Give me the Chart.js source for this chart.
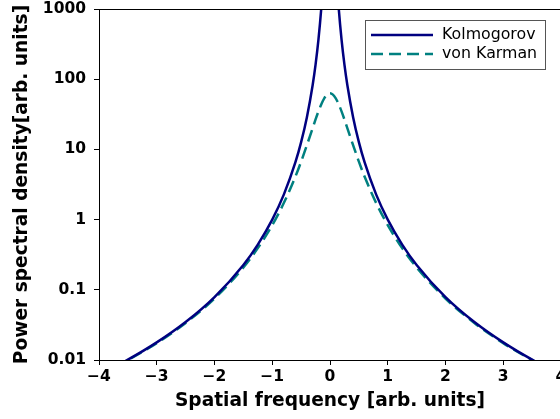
<!DOCTYPE html>
<html>
<head>
    <title>PSD - Kolmogorov vs von Karman</title>
    <script src="https://cdn.jsdelivr.net/npm/chart.js"></script>
    <style>
        html, body { margin: 0; padding: 0; overflow: hidden; background: white; }
        canvas { display: block; }
    </style>
</head>
<body>
    <canvas id="chart" width="580" height="419"></canvas>

    <script>
        // spatial frequency samples
        const freq = [-4, -3.5, -3, -2.5, -2, -1.5, -1.25, -1, -0.8, -0.6, -0.5, -0.4, -0.3, -0.25, -0.2, -0.15, -0.12, -0.1, -0.05, 0,
                      0.05, 0.1, 0.12, 0.15, 0.2, 0.25, 0.3, 0.4, 0.5, 0.6, 0.8, 1, 1.25, 1.5, 2, 2.5, 3, 3.5, 4];
        const kolmogorov = [0.0062, 0.0101, 0.0178, 0.0347, 0.0787, 0.226, 0.441, 1, 2.27, 6.51, 12.7, 28.8, 82.7, 161, 365, 1050, 2380, 4640, null, null,
                            null, 4640, 2380, 1050, 365, 161, 82.7, 28.8, 12.7, 6.51, 2.27, 1, 0.441, 0.226, 0.0787, 0.0347, 0.0178, 0.0101, 0.0062];
        const vonKarman = [0.0061, 0.00996, 0.0174, 0.0337, 0.0751, 0.208, 0.392, 0.834, 1.72, 4.08, 6.70, 11.5, 20.1, 26.7, 34.8, 44.1, 49.7, 53.3, 60.4, 63,
                           60.4, 53.3, 49.7, 44.1, 34.8, 26.7, 20.1, 11.5, 6.70, 4.08, 1.72, 0.834, 0.392, 0.208, 0.0751, 0.0337, 0.0174, 0.00996, 0.0061];
        const yTicks = [0.01, 0.1, 1, 10, 100, 1000];
        const yTickLabels = ['0.01', '0.1', '1', '10', '100', '1000'];

        const tickFont = { family: 'DejaVu Sans', size: 15.5, weight: 'bold' };
        const titleFont = { family: 'DejaVu Sans', size: 18.6, weight: 'bold' };

        // matplotlib-like frame and legend inside the plot
        const framePlugin = {
            id: 'frame',
            afterDatasetsDraw(chart) {
                const { ctx, chartArea: a } = chart;
                ctx.save();
                ctx.strokeStyle = 'black';
                ctx.lineWidth = 1;
                ctx.strokeRect(a.left + 0.5, a.top + 0.5, a.right - a.left, a.bottom - a.top);

                // legend
                const bx = 365, by = 20, bw = 180, bh = 49;
                ctx.fillStyle = 'white';
                ctx.fillRect(bx, by, bw, bh);
                ctx.strokeStyle = '#555';
                ctx.strokeRect(bx + 0.5, by + 0.5, bw, bh);
                ctx.font = '15.8px "DejaVu Sans"';
                ctx.textBaseline = 'middle';
                chart.data.datasets.forEach((ds, i) => {
                    const y = by + 15 + i * 19;
                    ctx.strokeStyle = ds.borderColor;
                    ctx.lineWidth = ds.borderWidth;
                    ctx.setLineDash(ds.borderDash || []);
                    ctx.beginPath();
                    ctx.moveTo(bx + 6, y);
                    ctx.lineTo(bx + 68, y);
                    ctx.stroke();
                    ctx.setLineDash([]);
                    ctx.fillStyle = 'black';
                    ctx.fillText(ds.label, bx + 77, y);
                });
                ctx.restore();
            }
        };

        const ctx = document.getElementById('chart').getContext('2d');
        const chart = new Chart(ctx, {
            type: 'line',
            data: {
                datasets: [{
                    label: 'Kolmogorov',
                    borderColor: '#000080',
                    borderWidth: 2.5,
                    data: freq.map((f, i) => ({ x: f, y: kolmogorov[i] })),
                    pointRadius: 0,
                    cubicInterpolationMode: 'monotone',
                    spanGaps: false,
                    fill: false,
                }, {
                    label: 'von Karman',
                    borderColor: '#008080',
                    borderWidth: 2.5,
                    borderDash: [12, 6],
                    data: freq.map((f, i) => ({ x: f, y: vonKarman[i] })),
                    pointRadius: 0,
                    cubicInterpolationMode: 'monotone',
                    fill: false,
                }]
            },
            options: {
                responsive: false,
                animation: false,
                layout: { padding: { top: 9, right: 19, left: 0, bottom: 0 } },
                plugins: {
                    legend: { display: false },
                    tooltip: { enabled: false }
                },
                scales: {
                    x: {
                        type: 'linear',
                        min: -4,
                        max: 4,
                        afterFit(scale) {
                            scale.height = 59;
                            scale.paddingLeft = 0;
                            scale.paddingRight = 0;
                        },
                        ticks: {
                            stepSize: 1,
                            color: 'black',
                            font: tickFont,
                            padding: 3,
                            maxRotation: 0,
                            callback: v => v < 0 ? '\u2212' + Math.abs(v) : String(v)
                        },
                        grid: { drawOnChartArea: false, color: 'black', tickLength: 5 },
                        border: { color: 'black' },
                        title: { display: true, text: 'Spatial frequency [arb. units]', color: 'black', font: titleFont, padding: { top: 0, bottom: 7 } }
                    },
                    y: {
                        type: 'logarithmic',
                        min: 0.01,
                        max: 1000,
                        afterFit(scale) {
                            scale.width = 99;
                            scale.paddingTop = 0;
                            scale.paddingBottom = 0;
                        },
                        afterBuildTicks(scale) { scale.ticks = yTicks.map(v => ({ value: v })); },
                        ticks: {
                            color: 'black',
                            font: tickFont,
                            padding: 8,
                            callback: v => yTickLabels[yTicks.indexOf(v)]
                        },
                        grid: { drawOnChartArea: false, color: 'black', tickLength: 5 },
                        border: { color: 'black' },
                        title: { display: true, text: 'Power spectral density[arb. units]', color: 'black', font: titleFont, padding: { top: 11, bottom: 0 } }
                    }
                }
            },
            plugins: [framePlugin]
        });
    </script>
</body>
</html>
